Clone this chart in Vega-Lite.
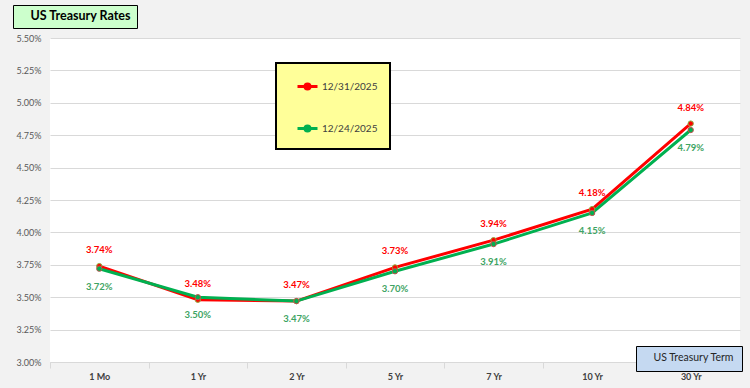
{
  "$schema": "https://vega.github.io/schema/vega-lite/v6.json",
  "width": 690,
  "height": 324,
  "autosize": {"type": "none"},
  "padding": {"left": 50, "top": 38, "right": 10, "bottom": 26},
  "background": "#f2f2f2",
  "config": {
    "view": {"fill": "white", "stroke": null},
    "font": "Lato"
  },
  "data": {
    "values": [
      {"term": "1 Mo", "date": "12/31/2025", "rate": 0.0374},
      {"term": "1 Yr", "date": "12/31/2025", "rate": 0.0348},
      {"term": "2 Yr", "date": "12/31/2025", "rate": 0.0347},
      {"term": "5 Yr", "date": "12/31/2025", "rate": 0.0373},
      {"term": "7 Yr", "date": "12/31/2025", "rate": 0.0394},
      {"term": "10 Yr", "date": "12/31/2025", "rate": 0.0418},
      {"term": "30 Yr", "date": "12/31/2025", "rate": 0.0484},
      {"term": "1 Mo", "date": "12/24/2025", "rate": 0.0372},
      {"term": "1 Yr", "date": "12/24/2025", "rate": 0.0350},
      {"term": "2 Yr", "date": "12/24/2025", "rate": 0.0347},
      {"term": "5 Yr", "date": "12/24/2025", "rate": 0.0370},
      {"term": "7 Yr", "date": "12/24/2025", "rate": 0.0391},
      {"term": "10 Yr", "date": "12/24/2025", "rate": 0.0415},
      {"term": "30 Yr", "date": "12/24/2025", "rate": 0.0479}
    ]
  },
  "encoding": {
    "x": {
      "field": "term",
      "type": "ordinal",
      "sort": ["1 Mo", "1 Yr", "2 Yr", "5 Yr", "7 Yr", "10 Yr", "30 Yr"],
      "scale": {"type": "band", "paddingInner": 0, "paddingOuter": 0},
      "axis": {
        "title": null,
        "labelAngle": 0,
        "labelFont": "Lato",
        "labelFontSize": 9,
        "labelFontWeight": "bold",
        "labelColor": "#404040",
        "labelPadding": 4,
        "tickBand": "extent",
        "tickSize": 6,
        "tickColor": "#d9d9d9",
        "domainColor": "#d9d9d9",
        "grid": false
      }
    },
    "y": {
      "field": "rate",
      "type": "quantitative",
      "scale": {"domain": [0.03, 0.055], "nice": false, "zero": false},
      "axis": {
        "title": null,
        "format": ".2%",
        "values": [0.03, 0.0325, 0.035, 0.0375, 0.04, 0.0425, 0.045, 0.0475, 0.05, 0.0525, 0.055],
        "labelFont": "Lato",
        "labelFontSize": 9,
        "labelColor": "#595959",
        "labelPadding": 9,
        "ticks": false,
        "domain": false,
        "gridColor": "#d9d9d9",
        "gridWidth": 1
      }
    }
  },
  "layer": [
    {
      "mark": {"type": "line", "strokeWidth": 3},
      "encoding": {
        "color": {
          "field": "date",
          "type": "nominal",
          "sort": ["12/31/2025", "12/24/2025"],
          "scale": {"domain": ["12/31/2025", "12/24/2025"], "range": ["#ff0000", "#00b050"]},
          "legend": {
            "title": null,
            "orient": "none",
            "legendX": 226,
            "legendY": 25,
            "fillColor": "#ffff99",
            "strokeColor": "#000000",
            "padding": 12,
            "rowPadding": 22,
            "symbolOffset": 8,
            "symbolType": "M-1,0H-0.25M0.25,0H1M0.25,0A0.25,0.25,0,1,1,-0.25,0A0.25,0.25,0,1,1,0.25,0Z",
            "symbolSize": 400,
            "symbolStrokeWidth": 3,
            "labelOffset": 3,
            "labelFont": "Lato",
            "labelFontSize": 10,
            "labelColor": "#404040",
            "encode": {"legend": {"update": {"strokeWidth": {"value": 2}}}}
          }
        }
      }
    },
    {
      "mark": {"type": "point", "filled": true, "size": 28, "strokeWidth": 1, "opacity": 1},
      "encoding": {
        "color": {"field": "date", "type": "nominal"},
        "stroke": {
          "field": "date",
          "type": "nominal",
          "scale": {"domain": ["12/31/2025", "12/24/2025"], "range": ["#8faa3c", "#c0504d"]},
          "legend": null
        }
      }
    },
    {
      "transform": [{"filter": "datum.date === '12/31/2025'"}],
      "mark": {"type": "text", "dy": -16, "fontWeight": "bold", "fontSize": 9.5, "color": "#ff0000", "font": "Lato"},
      "encoding": {"text": {"field": "rate", "type": "quantitative", "format": ".2%"}}
    },
    {
      "transform": [{"filter": "datum.date === '12/24/2025'"}],
      "mark": {"type": "text", "dy": 18, "fontWeight": "bold", "fontSize": 9.5, "color": "#3ea463", "font": "Lato"},
      "encoding": {"text": {"field": "rate", "type": "quantitative", "format": ".2%"}}
    },
    {
      "mark": {"type": "point", "opacity": 0},
      "encoding": {
        "shape": {
          "datum": "US Treasury Rates",
          "legend": {
            "title": null,
            "orient": "none",
            "legendX": -37,
            "legendY": -33,
            "fillColor": "#ccffcc",
            "strokeColor": "#000000",
            "padding": 5,
            "symbolSize": 0,
            "symbolOpacity": 0,
            "labelOffset": 0,
            "labelFont": "Lato",
            "labelFontSize": 12.5,
            "labelFontWeight": "bold",
            "labelColor": "#000000",
            "labelLimit": 300
          }
        }
      }
    },
    {
      "mark": {"type": "point", "opacity": 0},
      "encoding": {
        "strokeDash": {
          "datum": "US Treasury Term",
          "legend": {
            "title": null,
            "orient": "none",
            "legendX": 586,
            "legendY": 308,
            "fillColor": "#c5d9f1",
            "strokeColor": "#000000",
            "padding": 7,
            "symbolSize": 0,
            "symbolOpacity": 0,
            "symbolStrokeWidth": 0,
            "labelOffset": 0,
            "labelFont": "Lato",
            "labelFontSize": 10.5,
            "labelColor": "#262626",
            "labelLimit": 300
          }
        }
      }
    }
  ]
}
